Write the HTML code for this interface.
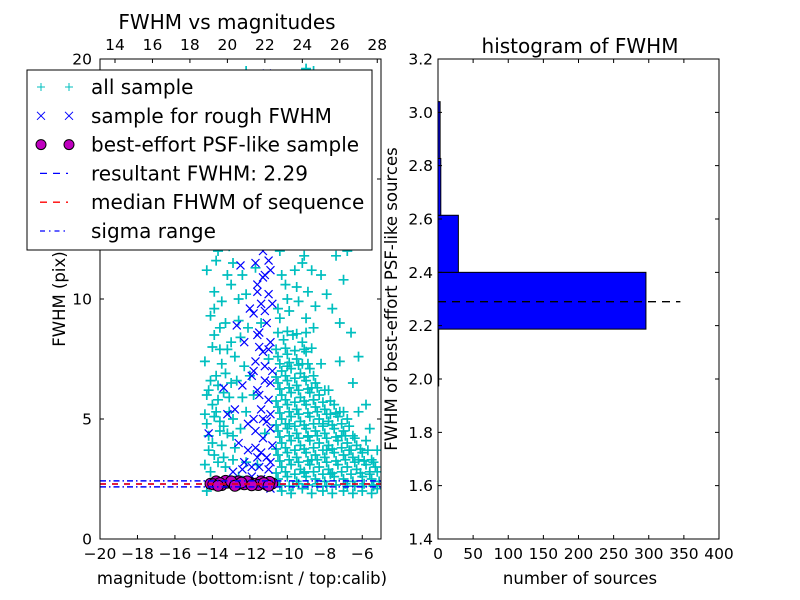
<!DOCTYPE html>
<html><head><meta charset="utf-8"><style>
body{margin:0;background:#fff;}
svg{display:block;font-family:"DejaVu Sans","Liberation Sans",sans-serif;}
</style></head><body>
<svg id="fig" width="800" height="600" xmlns="http://www.w3.org/2000/svg">
<rect width="800" height="600" fill="#fff"/>
<g id="left"></g><g id="right"></g><g id="legend"></g>
</svg>
<script>
const allSample=[[-14.3,2.0],[-14.1,2.8],[-13.9,3.5],[-14.2,4.3],[-13.6,4.9],[-14.0,5.6],[-13.4,6.1],[-13.8,6.8],[-14.4,7.4],[-13.2,7.9],[-13.9,8.5],[-14.1,9.3],[-13.5,9.9],[-13.0,10.6],[-14.3,11.2],[-13.7,12.0],[-13.1,12.9],[-14.0,13.6],[-13.4,14.5],[-14.2,15.3],[-12.8,16.1],[-13.6,17.0],[-14.1,18.2],[-12.9,19.1],[-13.3,3.0],[-12.8,3.8],[-12.5,4.6],[-13.1,5.3],[-12.7,6.6],[-12.3,7.2],[-13.0,8.2],[-12.6,9.1],[-12.2,10.2],[-12.9,11.5],[-12.4,12.6],[-12.1,14.0],[-12.7,15.0],[-12.3,17.5],[-13.8,2.4],[-12.6,2.6],[-12.2,3.2],[-13.5,3.9],[-14.0,4.0],[-13.2,4.4],[-12.9,5.0],[-13.7,5.8],[-12.4,5.9],[-13.3,6.9],[-14.2,6.2],[-12.8,7.6],[-13.6,8.8],[-12.5,8.4],[-13.9,10.3],[-12.7,13.5],[-13.2,16.5],[-14.4,14.2],[-12.2,19.5],[-13.0,18.5],[-13.6,4.5],[-13.9,5.1],[-13.1,5.9],[-13.7,6.4],[-12.9,4.3],[-13.4,3.4],[-14.3,4.8],
[-14.4,3.1],[-14.2,3.7],[-13.7,3.2],[-13.4,4.7],[-13.8,5.3],[-14.1,6.6],[-13.5,7.3],[-13.0,6.5],[-13.6,7.9],[-14.0,8.0],[-13.3,9.0],[-13.9,9.6],[-13.2,11.0],[-13.8,11.6],[-13.5,13.0],[-12.9,14.0],[-13.7,15.8],[-12.6,10.0],[-12.4,11.0],[-12.2,5.3],[-12.0,6.8],[-12.9,3.3],[-13.4,2.3],[-14.4,5.2],[-14.3,6.0],[-12.1,8.8],[-13.1,12.2],[-14.1,12.6],[-14.0,16.8],[-12.5,18.2],
[-11.6,3.1],[-11.2,4.4],[-11.8,6.0],[-11.0,7.5],[-11.4,9.0],[-11.7,11.3],[-11.1,13.6],[-10.9,16.0],[-11.5,18.8],
[-10.3,2.0],[-9.8,1.9],[-9.2,2.1],[-8.7,1.9],[-8.1,2.0],[-7.6,1.9],[-7.0,2.0],[-6.5,1.9],[-6.0,2.0],[-5.5,1.9],[-5.2,2.1],
[-10.5,2.5],[-10.0,2.6],[-9.5,2.4],[-9.0,2.6],[-8.5,2.5],[-8.0,2.4],[-7.5,2.6],[-7.0,2.5],[-6.5,2.4],[-6.0,2.6],[-5.5,2.5],[-5.1,2.4],
[-10.3,3.0],[-9.8,3.1],[-9.3,2.9],[-8.8,3.1],[-8.3,3.0],[-7.8,2.9],[-7.3,3.1],[-6.8,3.0],[-6.3,2.9],[-5.8,3.1],[-5.3,3.0],
[-10.5,3.5],[-10.0,3.6],[-9.5,3.4],[-9.0,3.6],[-8.5,3.5],[-8.0,3.4],[-7.5,3.6],[-7.0,3.5],[-6.5,3.4],[-6.0,3.6],[-5.5,3.3],
[-10.3,4.0],[-9.8,4.1],[-9.3,3.9],[-8.8,4.1],[-8.3,4.0],[-7.8,3.9],[-7.3,4.1],[-6.8,4.0],[-6.3,3.9],[-5.8,4.1],
[-10.5,4.5],[-10.0,4.6],[-9.5,4.4],[-9.0,4.6],[-8.5,4.5],[-8.0,4.4],[-7.5,4.6],[-7.0,4.5],[-6.5,4.3],
[-10.3,5.0],[-9.8,5.1],[-9.3,4.9],[-8.8,5.1],[-8.3,5.0],[-7.8,4.9],[-7.3,5.1],[-6.8,5.0],
[-10.5,5.5],[-10.0,5.6],[-9.5,5.4],[-9.0,5.6],[-8.5,5.5],[-8.0,5.4],[-7.5,5.6],
[-10.3,6.0],[-9.8,6.1],[-9.3,5.9],[-8.8,6.1],[-8.3,6.0],[-7.8,6.2],
[-10.5,6.5],[-10.0,6.6],[-9.5,6.4],[-9.0,6.6],[-8.5,6.5],
[-10.3,7.0],[-9.8,7.1],[-9.3,6.9],[-8.8,7.1],[-8.2,7.3],
[-10.5,7.6],[-10.0,7.7],[-9.5,7.5],[-9.0,7.8],
[-10.2,8.3],[-9.7,8.5],[-9.2,8.2],[-8.6,8.8],[-7.6,9.6],
[-10.4,9.2],[-9.9,9.5],[-9.4,9.9],[-8.9,10.3],[-8.2,11.0],
[-10.1,10.6],[-9.6,11.2],[-9.1,11.8],[-8.5,12.4],[-7.8,13.0],
[-10.4,12.0],[-9.8,12.8],[-9.3,13.5],[-8.8,14.3],[-8.1,15.2],
[-10.2,14.0],[-9.6,15.0],[-9.0,16.0],[-8.4,17.0],[-7.6,18.0],
[-10.4,16.2],[-9.8,17.5],[-9.2,18.6],[-8.6,19.5],[-10.0,19.2],[-7.2,16.5],[-6.8,12.0],[-7.2,7.4],[-6.2,5.3],[-5.6,4.6],[-5.2,3.7],[-6.6,8.6],[-7.0,10.8],
[-9.7,2.2],[-9.1,2.8],[-8.4,2.2],[-7.7,2.7],[-6.8,2.2],[-6.2,3.3],[-5.6,2.8],[-9.6,3.7],[-8.7,3.3],[-7.9,3.7],[-7.1,4.3],[-6.7,3.7],[-9.9,4.8],[-8.9,4.3],[-8.1,4.8],[-7.2,5.3],[-9.4,5.2],[-8.6,5.8],[-7.7,5.2],[-9.9,6.3],[-9.2,7.3],[-8.7,6.3],[-10.0,7.2],[-6.0,2.2],[-5.4,2.2],
[-10.4,2.25],[-9.9,2.2],[-9.4,2.3],[-8.9,2.25],[-8.4,2.3],[-7.9,2.2],[-7.4,2.25],[-6.9,2.3],[-6.4,2.2],[-5.9,2.3],[-5.4,2.25],
[-10.6,2.75],[-10.1,2.8],[-9.6,2.7],[-9.1,2.75],[-8.6,2.8],[-8.1,2.7],[-7.6,2.75],[-7.1,2.8],[-6.6,2.7],[-6.1,2.75],[-5.6,2.7],[-5.2,2.8],
[-10.4,3.25],[-9.9,3.3],[-9.4,3.2],[-8.9,3.25],[-8.4,3.3],[-7.9,3.2],[-7.4,3.25],[-6.9,3.3],[-6.4,3.2],[-5.9,3.25],[-5.4,3.2],
[-10.6,3.75],[-10.1,3.8],[-9.6,3.7],[-9.1,3.75],[-8.6,3.8],[-8.1,3.7],[-7.6,3.75],[-7.1,3.8],[-6.6,3.7],[-6.1,3.75],[-5.7,3.7],
[-10.4,4.25],[-9.9,4.3],[-9.4,4.2],[-8.9,4.25],[-8.4,4.3],[-7.9,4.2],[-7.4,4.25],[-6.9,4.3],[-6.4,4.2],
[-10.6,4.75],[-10.1,4.8],[-9.6,4.7],[-9.1,4.75],[-8.6,4.8],[-8.1,4.7],[-7.6,4.75],[-7.1,4.8],[-6.7,4.7],
[-10.4,5.25],[-9.9,5.3],[-9.4,5.2],[-8.9,5.25],[-8.4,5.3],[-7.9,5.2],[-7.4,5.25],[-7.0,5.3],
[-10.6,5.75],[-10.1,5.8],[-9.6,5.7],[-9.1,5.75],[-8.6,5.8],[-8.1,5.7],[-7.7,5.75],
[-10.4,6.25],[-9.9,6.3],[-9.4,6.2],[-8.9,6.25],[-8.4,6.3],[-8.0,6.2],
[-10.6,6.75],[-10.1,6.8],[-9.6,6.7],[-9.1,6.75],[-8.6,6.8],
[-10.4,7.3],[-9.9,7.35],[-9.4,7.25],[-8.9,7.3],
[-10.6,7.9],[-10.1,7.95],[-9.6,7.85],[-9.1,7.9],[-8.7,7.95],
[-10.5,8.6],[-10.0,8.65],[-9.5,8.55],[-9.0,8.6],
[-10.5,9.6],[-10.0,10.0],[-9.5,10.5],[-9.0,9.2],[-8.5,9.7],[-10.3,11.0],[-9.2,11.5],[-8.7,11.2],[-10.5,12.6],[-9.5,12.3],[-9.0,13.0],[-8.3,13.7],[-10.0,13.5],[-10.5,14.8],[-9.3,14.6],[-8.6,15.5],[-10.1,15.7],[-9.4,16.7],[-8.9,17.3],[-10.3,17.8],[-9.6,18.3],[-8.0,18.9],[-9.0,19.6],[-8.0,16.0],[-7.6,14.5],[-7.4,11.8],[-7.9,10.2],[-7.2,9.0],[-6.5,6.5],[-5.8,5.6],[-6.2,7.6]];
const roughSample=[[-11.9,2.6],[-11.5,3.0],[-11.1,3.4],[-11.7,3.8],[-11.3,4.2],[-10.9,4.6],[-11.8,5.0],[-11.4,5.4],[-11.0,5.8],[-11.6,6.2],[-11.2,6.6],[-10.8,7.0],[-11.7,7.4],[-11.3,7.8],[-10.9,8.2],[-11.5,8.6],[-11.1,9.0],[-11.8,9.4],[-11.4,9.8],[-11.0,10.2],[-11.6,10.6],[-11.2,11.0],[-11.7,11.5],[-11.3,12.0],[-10.9,12.5],[-11.5,13.0],[-11.1,13.6],[-11.8,14.2],[-11.4,14.8],[-11.0,15.4],[-11.6,16.0],[-11.2,16.6],[-11.5,17.3],[-11.0,18.0],[-12.3,3.2],[-12.6,4.0],[-12.1,4.8],[-12.8,5.4],[-12.4,6.4],[-13.4,6.3],[-13.2,5.2],[-12.9,2.8],[-14.2,4.4],[-12.3,8.2],[-12.7,8.9],[-12.0,9.6],[-12.5,11.4],[-12.2,12.5],[-12.0,14.0],[-12.4,16.4],[-11.9,6.8],[-11.6,3.4],[-11.0,2.9],[-11.3,5.0],[-10.8,3.9],[-10.9,2.1],[-11.2,7.2],[-11.5,8.0],[-11.0,11.6],
[-11.9,3.0],[-11.4,3.6],[-10.9,3.2],[-11.7,4.5],[-11.1,4.9],[-11.5,6.0],[-10.9,6.5],[-11.8,7.0],[-11.0,7.9],[-11.6,8.5],[-11.2,9.5],[-10.8,9.8],[-11.6,10.3],[-11.3,10.9],[-10.9,11.2],[-11.8,12.3],[-11.3,12.7],[-11.0,13.2],[-11.6,13.8],[-11.2,14.5],[-11.8,15.3],[-11.3,15.8],[-11.7,17.0],[-11.3,18.6],[-11.1,19.4],[-12.4,2.9],[-12.1,3.7],[-11.4,2.5],[-11.7,2.2],[-10.9,5.2]];
const psfSample=[[-14.1,2.3],[-13.8,2.4],[-13.5,2.25],[-13.2,2.35],[-12.9,2.3],[-12.6,2.4],[-12.3,2.28],[-12.0,2.35],[-11.7,2.3],[-11.4,2.4],[-11.1,2.26],[-10.8,2.32],[-13.95,2.28],[-13.3,2.42],[-12.7,2.26],[-12.15,2.4],[-11.55,2.25],[-10.95,2.38],[-13.6,2.33],[-12.45,2.35],[-11.25,2.33],[-13.0,2.4],[-12.8,2.22],[-11.9,2.24],[-11.0,2.22],[-13.7,2.22]];
const resultFWHM=2.29, medianFWHM=2.29, sigmaLow=2.17, sigmaHigh=2.42;
const histBinEdges=[1.974,2.187,2.4,2.614,2.827,3.04];
const histCounts=[1,296,29,4,3];
const bottomTicks=[-20,-18,-16,-14,-12,-10,-8,-6];
const topTicks=[14,16,18,20,22,24,26,28];
const leftYTicks=[0,5,10,15,20];
const rightYTicks=[1.4,1.6,1.8,2.0,2.2,2.4,2.6,2.8,3.0,3.2];
const rightXTicks=[0,50,100,150,200,250,300,350,400];
const calibOffset=33.2;

const NS="http://www.w3.org/2000/svg";
const TF=15.5;
function el(tag,attrs,parent,txt){const e=document.createElementNS(NS,tag);for(const k in attrs)e.setAttribute(k,attrs[k]);if(txt!==undefined)e.textContent=txt;parent.appendChild(e);return e;}
const L=document.getElementById('left'),R=document.getElementById('right'),G=document.getElementById('legend');
const lx0=100,lx1=381,ly0=59,ly1=539;
const lxs=v=>lx0+(v+20)/15*(lx1-lx0);
const lys=v=>ly1-v/20*(ly1-ly0);
const clip=el('clipPath',{id:'lc'},L);el('rect',{x:lx0,y:ly0,width:lx1-lx0,height:ly1-ly0},clip);
const plot=el('g',{'clip-path':'url(#lc)'},L);
allSample.forEach(p=>{const x=lxs(p[0]),y=lys(p[1]);
 const m=el('path',{d:`M${x-5} ${y}H${x+5}M${x} ${y-5}V${y+5}`,stroke:'#00bfbf','stroke-width':1.7},plot);
 
 });
roughSample.forEach(p=>{const x=lxs(p[0]),y=lys(p[1]);
 const m=el('path',{d:`M${x-4} ${y-4}L${x+4} ${y+4}M${x-4} ${y+4}L${x+4} ${y-4}`,stroke:'#0000ff','stroke-width':1.2},plot);
 
 });
psfSample.forEach(p=>{const m=el('circle',{cx:lxs(p[0]),cy:lys(p[1]),r:5.5,fill:'#bf00bf',stroke:'#000','stroke-width':1},plot);
 
 });
[[sigmaLow,'#0000ff','6,3,1.5,3','sigma-low-line'],[sigmaHigh,'#0000ff','6,3,1.5,3','sigma-high-line'],[resultFWHM,'#0000ff','6,6','resultant-fwhm-line'],[medianFWHM,'#ff0000','6,6','median-fwhm-line']].forEach(a=>{
 const m=el('line',{x1:lx0,x2:lx1,y1:lys(a[0]),y2:lys(a[0]),stroke:a[1],'stroke-width':1.5,'stroke-dasharray':a[2]},plot);
 
 });
el('rect',{x:lx0,y:ly0,width:lx1-lx0,height:ly1-ly0,fill:'none',stroke:'#000'},L);
bottomTicks.forEach(t=>{const x=lxs(t);el('path',{d:`M${x} ${ly1}v-4`,stroke:'#000'},L);
 const tl=el('text',{x:x,y:ly1+20,'font-size':TF,'text-anchor':'middle'},L,'\u2212'+Math.abs(t));
 
 });
topTicks.forEach(t=>{const x=lxs(t-calibOffset);el('path',{d:`M${x} ${ly0}v4`,stroke:'#000'},L);
 const tl=el('text',{x:x,y:ly0-9,'font-size':TF,'text-anchor':'middle'},L,String(t));
 
 });
leftYTicks.forEach(t=>{const y=lys(t);el('path',{d:`M${lx0} ${y}h4M${lx1} ${y}h-4`,stroke:'#000'},L);
 const tl=el('text',{x:lx0-8,y:y+5.5,'font-size':TF,'text-anchor':'end'},L,String(t));
 
 });
el('text',{x:227,y:29,'font-size':20,'text-anchor':'middle',},L,'FWHM vs magnitudes');
el('text',{x:242,y:584,'font-size':16.5,'text-anchor':'middle',},L,'magnitude (bottom:isnt / top:calib)');
el('text',{x:65,y:299,'font-size':16.5,'text-anchor':'middle',transform:'rotate(-90 65 299)',},L,'FWHM (pix)');
const rx0=438,rx1=719,ry0=59,ry1=539;
const rxs=v=>rx0+v/400*(rx1-rx0);
const rys=v=>ry1-(v-1.4)/1.8*(ry1-ry0);
histCounts.forEach((c,i)=>{const y1=rys(histBinEdges[i+1]),y2=rys(histBinEdges[i]);
 const b=el('rect',{x:rx0,y:y1,width:rxs(c)-rx0,height:y2-y1,fill:'#0000ff',stroke:'#000','stroke-width':1},R);
 
 });
el('line',{x1:rx0,x2:rxs(345),y1:rys(medianFWHM),y2:rys(medianFWHM),stroke:'#000','stroke-width':1.3,'stroke-dasharray':'8,6',},R);
el('rect',{x:rx0,y:ry0,width:rx1-rx0,height:ry1-ry0,fill:'none',stroke:'#000'},R);
rightXTicks.forEach(t=>{const x=rxs(t);el('path',{d:`M${x} ${ry1}v-4M${x} ${ry0}v4`,stroke:'#000'},R);
 const tl=el('text',{x:x,y:ry1+20,'font-size':TF,'text-anchor':'middle'},R,String(t));
 
 });
rightYTicks.forEach(t=>{const y=rys(t);el('path',{d:`M${rx0} ${y}h4M${rx1} ${y}h-4`,stroke:'#000'},R);
 const tl=el('text',{x:rx0-5,y:y+5.5,'font-size':TF,'text-anchor':'end'},R,t.toFixed(1));
 
 });
el('text',{x:580,y:53,'font-size':20,'text-anchor':'middle',},R,'histogram of FWHM');
el('text',{x:580,y:584,'font-size':16.5,'text-anchor':'middle',},R,'number of sources');
el('text',{x:397,y:299,'font-size':16.5,'text-anchor':'middle',transform:'rotate(-90 397 299)',},R,'FWHM of best-effort PSF-like sources');
el('rect',{x:27,y:70,width:345,height:180,fill:'#fff',stroke:'#000',},G);
const legLabels=['all sample','sample for rough FWHM','best-effort PSF-like sample','resultant FWHM: 2.29','median FHWM of sequence','sigma range'];
legLabels.forEach((t,i)=>{const y=87+i*28.8;const g=el('g',{},G);
 
 
 [41,69].forEach(x=>{
  if(i==0)el('path',{d:`M${x-4} ${y}H${x+4}M${x} ${y-4}V${y+4}`,stroke:'#00bfbf'},g);
  if(i==1)el('path',{d:`M${x-4} ${y-4}L${x+4} ${y+4}M${x-4} ${y+4}L${x+4} ${y-4}`,stroke:'#0000ff'},g);
  if(i==2)el('circle',{cx:x,cy:y,r:5,fill:'#bf00bf',stroke:'#000'},g);});
 if(i==3)el('line',{x1:40,x2:68,y1:y,y2:y,stroke:'#0000ff','stroke-width':1.3,'stroke-dasharray':'7,6'},g);
 if(i==4)el('line',{x1:40,x2:68,y1:y,y2:y,stroke:'#ff0000','stroke-width':1.3,'stroke-dasharray':'7,6'},g);
 if(i==5)el('line',{x1:40,x2:68,y1:y,y2:y,stroke:'#0000ff','stroke-width':1.3,'stroke-dasharray':'5,4,1.5,4'},g);
 el('text',{x:91,y:y+7,'font-size':20},g,t);});
</script>
</body></html>
